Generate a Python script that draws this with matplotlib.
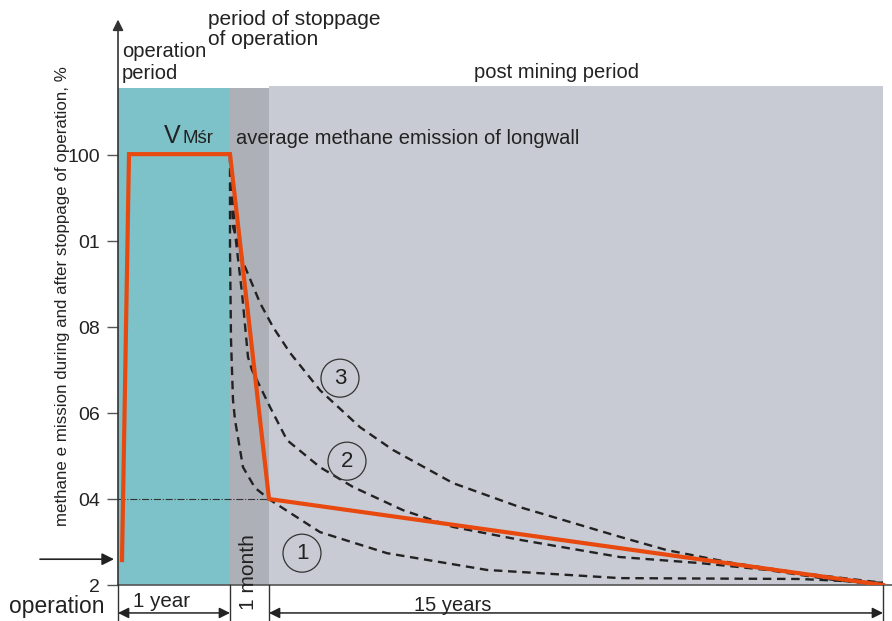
import matplotlib.pyplot as plt
from matplotlib.patches import Rectangle, Ellipse

plt.rcParams['font.family'] = ['Liberation Sans', 'DejaVu Sans']

# x is a schematic time scale (operation | 1 month stoppage | 15 years post mining)
x_op_end = 112
x_stop_end = 151
x_post_end = 765

# y values: methane emission, tick positions and their printed labels
y_ticks = [20, 40, 60, 80, 100, 120]
y_tick_labels = ["2", "04", "06", "08", "01", "100"]

# orange: simplified emission course
orange_x = [4, 11, 112, 151, 765]
orange_y = [25.8, 120.2, 120.2, 40.0, 20.0]

# dashed curves 1, 2, 3
c1_x = [112, 112, 113, 115, 117, 125, 137, 152, 202, 269, 369, 502, 682, 765]
c1_y = [120.2, 97.9, 77.0, 63.0, 58.4, 47.4, 42.6, 39.8, 32.3, 27.4, 23.5, 21.6, 21.4, 20.5]

c2_x = [112, 117, 124, 130, 134, 152, 169, 202, 235, 285, 335, 402, 502, 582, 649, 715, 765]
c2_y = [120.2, 101.9, 87.9, 73.0, 70.0, 61.4, 53.7, 47.4, 42.8, 37.4, 33.5, 30.5, 26.5, 25.1, 23.5, 21.2, 20.0]

c3_x = [112, 115, 127, 142, 155, 172, 202, 242, 275, 335, 402, 502, 549, 615, 682, 765]
c3_y = [120.2, 103.3, 94.0, 85.6, 80.0, 74.0, 65.3, 56.7, 51.4, 43.7, 38.1, 31.2, 28.1, 25.1, 22.8, 20.5]

curve_labels = ["1", "2", "3"]
label_x = [184, 229, 222]
label_y = [27.4, 48.8, 68.1]

fig = plt.figure(figsize=(8.92, 6.21), dpi=100)
ax = fig.add_axes([118 / 892, 36 / 621, 774 / 892, 585 / 621])
ax.set_xlim(0, 774)
ax.set_ylim(20, 20 + 585 / 4.3)
for s in ax.spines.values():
    s.set_visible(False)
ax.set_xticks([])
ax.set_yticks(y_ticks)
ax.set_yticklabels(y_tick_labels)
for lab in ax.get_yticklabels():
    lab.set_fontsize(14)
    lab.set_color('#222222')
ax.tick_params(axis='y', length=8, width=1, color='#555555', pad=5)

top_shade = 135.6
ax.add_patch(Rectangle((0, 20), x_op_end, top_shade - 20, color='#7dc1c9', lw=0, zorder=0))
ax.add_patch(Rectangle((x_op_end, 20), x_stop_end - x_op_end, top_shade - 20, color='#aeb0b8', lw=0, zorder=0))
ax.add_patch(Rectangle((x_stop_end, 20), x_post_end - x_stop_end, 136.0 - 20, color='#c8cbd3', lw=0, zorder=0))

# axes lines
ax.annotate('', xy=(0, 151.5), xytext=(0, 20),
            arrowprops=dict(arrowstyle='-|>', color='#333333', lw=1.2, mutation_scale=16,
                            shrinkA=0, shrinkB=0),
            annotation_clip=False)
ax.plot([0, 774], [20, 20], color='#555555', lw=1.2, clip_on=False)

ax.plot([0, 151], [40, 40], color='#333333', lw=0.8, linestyle='-.', zorder=2)

for cx, cy in [(c1_x, c1_y), (c2_x, c2_y), (c3_x, c3_y)]:
    ax.plot(cx, cy, color='#222222', lw=1.7, dashes=(3.6, 2.4), zorder=3)

ax.plot(orange_x, orange_y, color='#e8490f', lw=3, zorder=4, solid_joinstyle='miter')

for t, lx, ly in zip(curve_labels, label_x, label_y):
    ax.add_patch(Ellipse((lx, ly), 38, 38 / 4.3, fill=False, ec='#333333', lw=0.9, zorder=5))
    ax.text(lx, ly, t, ha='center', va='center', fontsize=16, color='#222222', zorder=6)

# texts
tc = '#222222'
ax.text(4, 146.3, "operation\nperiod", ha='left', va='top', fontsize=14.5, color=tc,
        linespacing=1.2, clip_on=False)
ax.text(90, 153.7, "period of stoppage\nof operation", ha='left', va='top', fontsize=15,
        color=tc, linespacing=1.05, clip_on=False)
ax.text(438, 139.1, "post mining period", ha='center', va='center', fontsize=14.5, color=tc)
ax.text(46, 122.8, "V", ha='left', va='baseline', fontsize=18, color=tc)
ax.text(64, 122.8, "Mśr", ha='left', va='baseline', fontsize=13.5, color=tc)
ax.text(118, 122.6, "average methane emission of longwall", ha='left', va='baseline',
        fontsize=14.5, color=tc)

fig.text(62 / 892, 1 - 296 / 621,
         "methane e mission during and after stoppage of operation, %",
         rotation=90, ha='center', va='center', fontsize=12.2, color=tc)

# input arrow on the left
ax.annotate('', xy=(-4, 26.0), xytext=(-78, 26.0),
            arrowprops=dict(arrowstyle='-|>', color='#222222', lw=1.2, mutation_scale=18,
                            shrinkA=0, shrinkB=0),
            annotation_clip=False)

# time span dimensions under the axis
for xv in [0, x_op_end, x_stop_end, x_post_end]:
    ax.plot([xv, xv], [20, 11.5], color='#333333', lw=1, clip_on=False)
for a, b in [(0, x_op_end), (x_stop_end, x_post_end)]:
    ax.annotate('', xy=(b, 13.5), xytext=(a, 13.5),
                arrowprops=dict(arrowstyle='<|-|>', color='#222222', lw=1.1,
                                mutation_scale=16, shrinkA=0, shrinkB=0),
                annotation_clip=False)
ax.text(44, 16.2, "1 year", ha='center', va='center', fontsize=14.8, color=tc, clip_on=False)
ax.text(130, 23.0, "1 month", ha='center', va='center', rotation=90, fontsize=15,
        color=tc, clip_on=False)
ax.text(335, 15.2, "15 years", ha='center', va='center', fontsize=14.5, color=tc, clip_on=False)
fig.text(57 / 892, 1 - 607 / 621, "operation", ha='center', va='center', fontsize=16.5, color=tc)

fig.savefig("out.png", dpi=100)
